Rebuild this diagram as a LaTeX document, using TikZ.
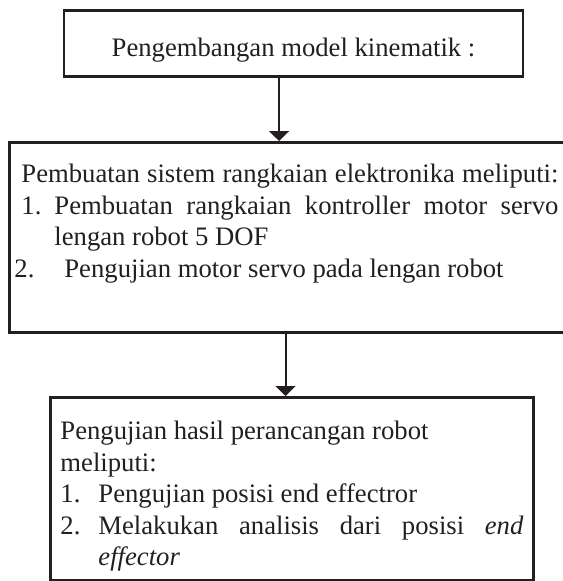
\documentclass[tikz,border=0pt]{standalone}
\usepackage{fontspec}
\setmainfont{Liberation Serif}
\usetikzlibrary{arrows.meta}
\definecolor{ink}{RGB}{35,31,32}
\begin{document}
\begin{tikzpicture}[x=0.45pt,y=-0.45pt,>={Triangle[width=9pt,length=4.5pt]},
box/.style={draw=ink,line width=1.3pt,inner ysep=0pt,text=ink},
flow/.style={->,draw=ink,line width=0.9pt}]
\useasboundingbox (0,0) rectangle (563,581);
\node[box,anchor=north,inner xsep=0pt,minimum width=206.55pt,text height=20.7pt,text depth=9pt,font=\fontsize{12}{14.2}\selectfont](kin) at (293.5,9){Pengembangan model kinematik :};
\node[box,anchor=north west,inner xsep=5.4pt,text height=18pt,text depth=67.5pt](elec) at (8,141){\parbox[t]{241.65pt}{\fontsize{12}{14.2}\selectfont
{\parfillskip=0pt Pembuatan sistem rangkaian elektronika meliputi:\par}
\hangindent=14.85pt\hangafter=1\noindent\makebox[14.85pt][l]{1.}Pembuatan rangkaian kontroller motor servo\linebreak lengan robot 5 DOF\par
\noindent\hspace*{-3.15pt}\makebox[22.5pt][l]{2.}Pengujian motor servo pada lengan robot}};
\node[box,anchor=north west,inner xsep=4.5pt,text height=18.9pt,text depth=63.45pt](test) at (49,396){\parbox[t]{208.35pt}{\fontsize{12}{14.2}\selectfont
Pengujian hasil perancangan robot\\ meliputi:\par
\hangindent=17.1pt\hangafter=1\noindent\makebox[17.1pt][l]{1.}Pengujian posisi end effectror\par
\hangindent=17.1pt\hangafter=1\noindent\makebox[17.1pt][l]{2.}Melakukan analisis dari posisi \textit{end}\linebreak\textit{effector}}};
\draw[flow]([xshift=-6.5pt]kin.south)--([xshift=-6.5pt]kin.south |- elec.north);
\draw[flow]([xshift=-2.9pt]test.north |- elec.south)--([xshift=-2.9pt]test.north);
\end{tikzpicture}
\end{document}
